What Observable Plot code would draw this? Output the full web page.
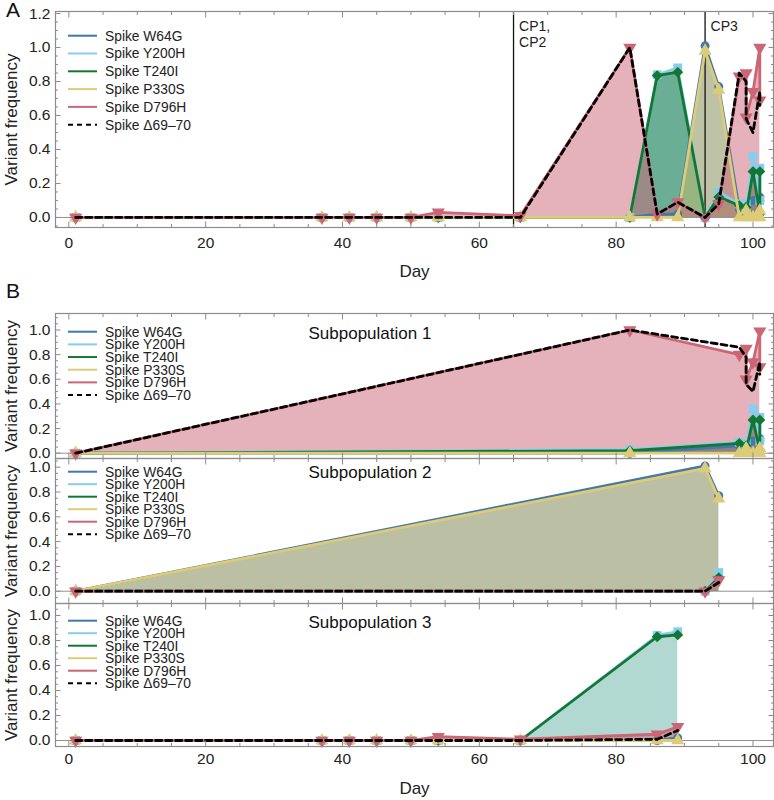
<!DOCTYPE html>
<html><head><meta charset="utf-8">
<script src="https://cdn.jsdelivr.net/npm/d3@7"></script>
<script src="https://cdn.jsdelivr.net/npm/@observablehq/plot@0.6"></script>
<style>
body{margin:0;background:#fff;font-family:"Liberation Sans",Arial,sans-serif;}
#wrap{position:relative;width:774px;height:800px;overflow:hidden;background:#fff}
.panel{position:absolute;left:0}
.letter{position:absolute;font-size:21px;color:#111;left:6px}
</style></head><body><div id="wrap">
<div class="letter" style="top:-2px">A</div>
<div class="letter" style="top:279px">B</div>
</div>
<script>
const FONT = '"Liberation Sans", Arial, sans-serif';

// ---------- series meta ----------
const seriesNames = ["Spike W64G","Spike Y200H","Spike T240I","Spike P330S","Spike D796H","Spike Δ69–70"];
const seriesColors = ["#4477AA","#88CCEE","#117733","#DDCC77","#CC6677","#000000"];

// ---------- Panel A (all samples) ----------
const daysA  = [1,37,41,45,50,54,66,82,86,89,93,95,98,99,99,100,101,101];
const w64gA  = [0,0,0,0,0,0,0,0,0.02,0.02,1.01,0.77,0.05,0.05,0.05,0.10,0.12,0.10];
const y200hA = [0,0,0,0,0,0,0,0,0.84,0.88,0.0,0.15,0.08,0.08,0.05,0.36,0.10,0.29];
const t240iA = [0,0,0,0,0,0,0,0,0.835,0.855,0.0,0.12,0.07,0.06,0.02,0.27,0.02,0.27];
const p330sA = [0,0,0,0,0,0,0,0,0,0,0.98,0.75,0,0,0.04,0,0.04,0];
const d796hA = [0,0,0,0,0,0.03,0.01,1.0,0.02,0.09,0.0,0.08,0.83,0.85,0.59,0.74,1.0,0.69];
const del6970A = [0,0,0,0,0,0,0,1.0,0.02,0.09,0.0,0.08,0.85,0.80,0.58,0.50,0.74,0.66];

// ---------- Subpopulation 1 ----------
const days1  = [1,82,98,99,99,100,101,101];
const w64g1  = [0,0,0.06,0.05,0.05,0.10,0.12,0.10];
const y200h1 = [0,0.03,0.09,0.08,0.05,0.36,0.10,0.29];
const t240i1 = [0,0.02,0.08,0.06,0.02,0.27,0.02,0.27];
const p330s1 = [0,0,0,0,0.04,0,0.04,0];
const d796h1 = [0,1.0,0.80,0.85,0.60,0.74,0.99,0.70];
const del69701 = [0,1.0,0.86,0.78,0.56,0.50,0.74,0.64];

// ---------- Subpopulation 2 ----------
const days2  = [1,93,95];
const w64g2  = [0,1.01,0.77];
const y200h2 = [0,0,0.15];
const t240i2 = [0,0,0.11];
const p330s2 = [0,0.99,0.745];
const d796h2 = [0,0,0.09];
const del69702 = [0,0,0.07];

// ---------- Subpopulation 3 ----------
const days3  = [1,37,41,45,50,54,66,86,89];
const w64g3  = [0,0,0,0,0,0,0,0,0.02];
const y200h3 = [0,0,0,0,0,0,0,0.84,0.87];
const t240i3 = [0,0,0,0,0,0,0,0.83,0.845];
const p330s3 = [0,0,0,0,0,0,0,0,0];
const d796h3 = [0,0,0,0,0,0.03,0.01,0.05,0.11];
const del69703 = [0,0,0,0,0,0,0,0.01,0.08];

// ---------- ticks / annotations ----------
const xMajor = [0,20,40,60,80,100];
const xMinor = [5,10,15,25,30,35,45,50,55,65,70,75,85,90,95];
const yMajorA = [0,0.2,0.4,0.6,0.8,1.0,1.2];
const yMajorB = [0,0.2,0.4,0.6,0.8,1.0];
const cpDays = [65,93];
const cpLabels = ["CP1,\nCP2","CP3"];

const triangleDown = {
  draw(context, size) {
    const y = -Math.sqrt(size / (Math.sqrt(3) * 3));
    context.moveTo(0, -y * 2);
    context.lineTo(-Math.sqrt(3) * y, y);
    context.lineTo(Math.sqrt(3) * y, y);
    context.closePath();
  }
};
const seriesSymbols = ["circle","square","diamond2","triangle",triangleDown,null];
const seriesR = [4.5,5.0,4.9,4.9,4.9,0];

function rows(days, v){ return days.map((d,i)=>({day:d, v:v[i]})); }

function buildPanel(cfg){
  const {days, vals, yDomain, yMajor, height, marginTop, marginBottom, fillOp, tickPad, showX, title, titleDy, legendY0, legendDy} = cfg;
  const yMinor = d3.range(yDomain[0] < -0.05 ? -0.05 : 0.05, yDomain[1], 0.05).map(d=>+d.toFixed(2)).filter(d => !yMajor.some(m => Math.abs(m-d) < 1e-6));
  const marks = [];
  vals.forEach((v,s)=>{
    if (s === 5) return;
    marks.push(Plot.area(rows(days,v), {x1:"day", y1:() => 0, y2:"v", fill:seriesColors[s], fillOpacity:fillOp[s]}));
  });
  marks.push(Plot.ruleY([0], {stroke:"#777", strokeWidth:0.8}));
  if (cfg.cp) {
    marks.push(Plot.ruleX(cpDays, {stroke:"#111", strokeWidth:1.3}));
    marks.push(Plot.text(cpLabels, {x: cpDays, frameAnchor:"top", textAnchor:"start", lineAnchor:"top", dx:5.5, dy:8, fontSize:14, lineHeight:1.15, fill:"#222"}));
  }
  vals.forEach((v,s)=>{
    const data = rows(days,v);
    marks.push(Plot.line(data, {x:"day", y:"v", stroke:seriesColors[s], strokeWidth:2.8, strokeLinejoin:"round", strokeDasharray: s===5 ? "6,4" : null}));
    if (seriesSymbols[s]) marks.push(Plot.dot(data, {x:"day", y:"v", symbol:seriesSymbols[s], fill:seriesColors[s], r:seriesR[s]}));
  });
  // frame & ticks
  marks.push(Plot.frame({stroke:"#8c8c8c", strokeWidth:1.2}));
  const tk = {stroke:"#8c8c8c", fill:"none", label:null};
  marks.push(Plot.axisX(xMajor, {anchor:"bottom", tickSize:-5.5, ...tk}));
  marks.push(Plot.axisX(xMinor, {anchor:"bottom", tickSize:-3, ...tk}));
  marks.push(Plot.axisX(xMajor, {anchor:"top", tickSize:-5.5, ...tk}));
  marks.push(Plot.axisX(xMinor, {anchor:"top", tickSize:-3, ...tk}));
  marks.push(Plot.axisY(yMajor, {anchor:"left", tickSize:-5.5, ...tk}));
  marks.push(Plot.axisY(yMinor, {anchor:"left", tickSize:-3, ...tk}));
  marks.push(Plot.axisY(yMajor, {anchor:"right", tickSize:-5.5, ...tk}));
  marks.push(Plot.axisY(yMinor, {anchor:"right", tickSize:-3, ...tk}));
  marks.push(Plot.axisY(yMajor, {anchor:"left", tickSize:0, tickPadding:5, tickFormat:".1f", label:null, fill:"#222", fontSize:15.5}));
  if (showX) {
    marks.push(Plot.axisX(xMajor, {anchor:"bottom", tickSize:0, tickPadding:tickPad, label:null, fill:"#222", fontSize:15.5}));
    marks.push(Plot.text(["Day"], {frameAnchor:"bottom", textAnchor:"middle", dy:cfg.dayDy, lineAnchor:"middle", fontSize:17, fill:"#222"}));
  }
  marks.push(Plot.text(["Variant frequency"], {frameAnchor:"left", textAnchor:"middle", lineAnchor:"middle", dx:-44, rotate:-90, fontSize:17, fill:"#222"}));
  if (title) marks.push(Plot.text([title], {frameAnchor:"top-left", textAnchor:"start", lineAnchor:"middle", dx:253, dy:titleDy, fontSize:17, fill:"#111"}));

  const plot = Plot.plot({
    width:774, height, marginTop, marginBottom, marginLeft:55, marginRight:1,
    x:{domain:[-1.95,103]}, y:{domain:yDomain},
    style:{fontFamily:FONT, fontSize:"15.5px", overflow:"visible", background:"transparent"},
    marks
  });
  // legend (non-data decoration)
  const g = d3.select(plot).append("g").attr("font-family", FONT).attr("font-size", 13.8).attr("text-anchor","start");
  seriesNames.forEach((name,i)=>{
    const y = legendY0 + i*legendDy;
    g.append("line").attr("x1",68).attr("x2",97).attr("y1",y).attr("y2",y)
      .attr("stroke",seriesColors[i]).attr("stroke-width",2).attr("stroke-dasharray", i===5 ? "5,4" : null);
    g.append("text").attr("x",105).attr("y",y).attr("dy","0.36em").attr("fill","#222").text(name);
  });
  return plot;
}

const wrap = document.getElementById("wrap");
function place(plot, top){
  const d = document.createElement("div");
  d.className = "panel"; d.style.top = top + "px";
  d.appendChild(plot); wrap.appendChild(d);
}

place(buildPanel({days:daysA, vals:[w64gA,y200hA,t240iA,p330sA,d796hA,del6970A],
  yDomain:[-0.059,1.212], yMajor:yMajorA, height:290, marginTop:11, marginBottom:63,
  fillOp:[0.5,0.5,0.5,0.5,0.5,0], tickPad:9, showX:true, dayDy:44, cp:true,
  legendY0:35.7, legendDy:17.8}), 0);

place(buildPanel({days:days1, vals:[w64g1,y200h1,t240i1,p330s1,d796h1,del69701],
  yDomain:[-0.043,1.134], yMajor:yMajorB, height:145, marginTop:0, marginBottom:0,
  fillOp:[0.5,0.5,0.5,0.5,0.5,0], showX:false, title:"Subpopulation 1", titleDy:20.5,
  legendY0:18.7, legendDy:12.67}), 313);

place(buildPanel({days:days2, vals:[w64g2,y200h2,t240i2,p330s2,d796h2,del69702],
  yDomain:[-0.099,1.07], yMajor:yMajorB, height:145, marginTop:0, marginBottom:0,
  fillOp:[0.55,0.5,0.5,0.5,0.5,0], showX:false, title:"Subpopulation 2", titleDy:14,
  legendY0:13.7, legendDy:12.5}), 458);

place(buildPanel({days:days3, vals:[w64g3,y200h3,t240i3,p330s3,d796h3,del69703],
  yDomain:[-0.048,1.096], yMajor:yMajorB, height:197, marginTop:0, marginBottom:54,
  fillOp:[0.5,0.3,0.2,0.5,0.5,0], tickPad:6, showX:true, dayDy:42, title:"Subpopulation 3", titleDy:19,
  legendY0:17.7, legendDy:12.5}), 603);
</script>
</body></html>
